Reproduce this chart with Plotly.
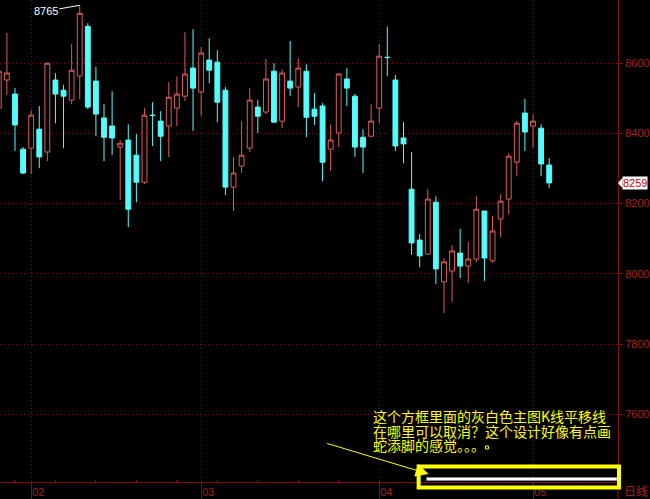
import plotly.graph_objects as go

# ---- data (daily K-line, index = trading day) ----
opens = [8472, 8552, 8512, 8355, 8358, 8412, 8347, 8552, 8523, 8495,
         8563, 8705, 8549, 8444, 8421, 8361, 8381, 8338, 8261, 8452,
         8435, 8421, 8472, 8506, 8586, 8518, 8609, 8603, 8523, 8247,
         8307, 8358, 8475, 8461, 8577, 8435, 8549, 8532, 8577, 8469,
         8478, 8355, 8401, 8555, 8506, 8389, 8392, 8472, 8617, 8552,
         8387, 8241, 8096, 8056, 8204, 7977, 8008, 8059, 8022, 8042,
         8179, 8037, 8156, 8213, 8318, 8458, 8421, 8415, 8310]
highs = [8592, 8686, 8529, 8361, 8466, 8478, 8602, 8572, 8538, 8654,
         8765, 8714, 8589, 8483, 8520, 8381, 8426, 8398, 8472, 8489,
         8463, 8546, 8563, 8688, 8697, 8646, 8671, 8637, 8532, 8333,
         8435, 8529, 8495, 8612, 8600, 8583, 8663, 8614, 8597, 8515,
         8486, 8426, 8572, 8586, 8512, 8412, 8483, 8654, 8705, 8566,
         8432, 8347, 8113, 8241, 8221, 8045, 8082, 8128, 8091, 8221,
         8179, 8165, 8227, 8344, 8435, 8498, 8455, 8426, 8330]
lows = [8461, 8509, 8350, 8284, 8284, 8301, 8321, 8429, 8358, 8483,
        8498, 8469, 8392, 8321, 8338, 8210, 8133, 8204, 8256, 8364,
        8321, 8333, 8421, 8492, 8407, 8449, 8543, 8432, 8224, 8179,
        8287, 8347, 8401, 8455, 8430, 8415, 8506, 8475, 8389, 8424,
        8264, 8293, 8361, 8478, 8333, 8287, 8389, 8429, 8563, 8350,
        8315, 8054, 8019, 8054, 7971, 7888, 7920, 7988, 7974, 8034,
        7980, 8031, 8105, 8170, 8278, 8350, 8358, 8278, 8244]
closes = [8577, 8572, 8424, 8287, 8452, 8333, 8600, 8512, 8506, 8580,
          8742, 8475, 8455, 8389, 8387, 8372, 8184, 8261, 8452, 8451,
          8392, 8503, 8512, 8569, 8529, 8629, 8580, 8489, 8247, 8287,
          8338, 8495, 8449, 8555, 8432, 8572, 8529, 8586, 8446, 8449,
          8318, 8381, 8569, 8529, 8361, 8361, 8435, 8620, 8616, 8364,
          8370, 8088, 8051, 8213, 8014, 8034, 8065, 8022, 8042, 8184,
          8045, 8122, 8207, 8335, 8429, 8404, 8435, 8313, 8259]
days = list(range(len(closes)))

month_ticks = [4, 25, 47, 66]
month_labels = ["02", "03", "04", "05"]
price_ticks = [7600, 7800, 8000, 8200, 8400, 8600]

note_lines = ["这个方框里面的灰白色主图K线平移线",
              "在哪里可以取消？这个设计好像有点画",
              "蛇添脚的感觉。。。"]
high_label = "8765"
period_label = "日线"

# ---- styles ----
UP = "#dc5c5a"
DOWN = "#54fcfc"
AXIS = "#8c0a0a"
LABEL = "#a8201c"
GRID = "#7a1212"
YEL = "#ffff00"

W, H = 650, 499
L, R, T, B = 0, 30, 0, 17
PW, PH = W - L - R, H - T - B


def px(xp):
    return xp / PW


def py(yp):
    return (PH - yp) / PH


fig = go.Figure()
fig.add_trace(go.Candlestick(
    x=days, open=opens, high=highs, low=lows, close=closes,
    increasing=dict(line=dict(color=UP, width=1), fillcolor="black"),
    decreasing=dict(line=dict(color=DOWN, width=1), fillcolor=DOWN),
    whiskerwidth=0, hoverinfo="skip", showlegend=False,
))

annotations = []
# high marker
hi_idx = highs.index(max(highs))
annotations.append(dict(x=hi_idx, y=highs[hi_idx], xref="x", yref="y",
                        text=high_label, showarrow=True, arrowhead=0,
                        arrowcolor="white", arrowwidth=1, ax=-34, ay=6,
                        font=dict(color="white", size=11, family="Liberation Sans")))
# last price tag
annotations.append(dict(x=px(624), y=closes[-1], xref="paper", yref="y",
                        text=str(closes[-1]), showarrow=False, xanchor="left",
                        yanchor="middle", bgcolor="white", borderpad=0,
                        font=dict(color="#c80000", size=11, family="Liberation Sans")))
# period label
annotations.append(dict(x=px(624), y=py(491), xref="paper", yref="paper",
                        text=period_label, showarrow=False, xanchor="left",
                        yanchor="middle",
                        font=dict(color=LABEL, size=12, family="Noto Sans CJK SC")))
# note text
for line, yy in zip(note_lines, [416, 431, 445]):
    annotations.append(dict(x=px(372), y=py(yy), xref="paper", yref="paper",
                            text=line, showarrow=False, xanchor="left",
                            yanchor="middle",
                            font=dict(color=YEL, size=14, family="Noto Sans CJK SC")))
# pointer arrow
annotations.append(dict(x=px(430), y=py(474), xref="paper", yref="paper",
                        text="", showarrow=True, arrowhead=2, arrowsize=2.6,
                        arrowwidth=1, arrowcolor=YEL, ax=-103, ay=-31))

shapes = [
    # right axis extension into bottom strip
    dict(type="line", xref="paper", yref="paper", x0=1, x1=1, y0=0, y1=py(499),
         line=dict(color=AXIS, width=1)),
    # grey/white shift line
    dict(type="rect", xref="paper", yref="paper", x0=px(428), x1=px(619),
         y0=py(480.5), y1=py(477.5), fillcolor="white", line=dict(color="#8a8aa0", width=1)),
    # yellow box
    dict(type="rect", xref="paper", yref="paper", x0=px(420), x1=px(621),
         y0=py(487.5), y1=py(466.5), line=dict(color=YEL, width=4)),
    # tiny yellow square
    dict(type="rect", xref="paper", yref="paper", x0=px(487), x1=px(490),
         y0=py(449), y1=py(446), line=dict(color=YEL, width=1)),
    # last-price tag pointer
    dict(type="path", xref="paper", yref="y",
         path=f"M 1,{closes[-1]} L {px(624.5)},{closes[-1] + 15} L {px(624.5)},{closes[-1] - 15} Z",
         fillcolor="white", line=dict(width=0)),
]

fig.update_layout(
    width=W, height=H,
    margin=dict(l=L, r=R, t=T, b=B, pad=0),
    paper_bgcolor="black", plot_bgcolor="black",
    boxgap=0.4, boxgroupgap=0,
    showlegend=False,
    annotations=annotations, shapes=shapes,
    xaxis=dict(
        range=[0.15, 76.5], rangeslider=dict(visible=False),
        tickmode="array", tickvals=month_ticks, ticktext=month_labels,
        ticks="outside", ticklen=17, tickcolor=AXIS, tickwidth=1,
        ticklabelposition="outside right",
        tickfont=dict(color=LABEL, size=11, family="Liberation Sans"),
        showgrid=True, gridcolor=GRID, griddash="1px,3px", gridwidth=1,
        showline=True, linecolor=AXIS, linewidth=1,
        zeroline=False, fixedrange=True,
        minor=dict(tickmode="linear", tick0=2, dtick=5, ticks="inside",
                   ticklen=2, tickcolor=AXIS, showgrid=False),
    ),
    yaxis=dict(
        range=[7407, 8780], side="right",
        tickmode="array", tickvals=price_ticks,
        ticks="outside", ticklen=4, tickcolor=AXIS,
        tickfont=dict(color=LABEL, size=11, family="Liberation Sans"),
        showgrid=True, gridcolor=GRID, griddash="1px,3px", gridwidth=1,
        showline=True, linecolor=AXIS, linewidth=1,
        zeroline=False, fixedrange=True,
    ),
)

fig.write_html(
    "out.html",
    config={"displayModeBar": False},
    post_script="document.body.style.margin='0';document.body.style.overflow='hidden';",
)
